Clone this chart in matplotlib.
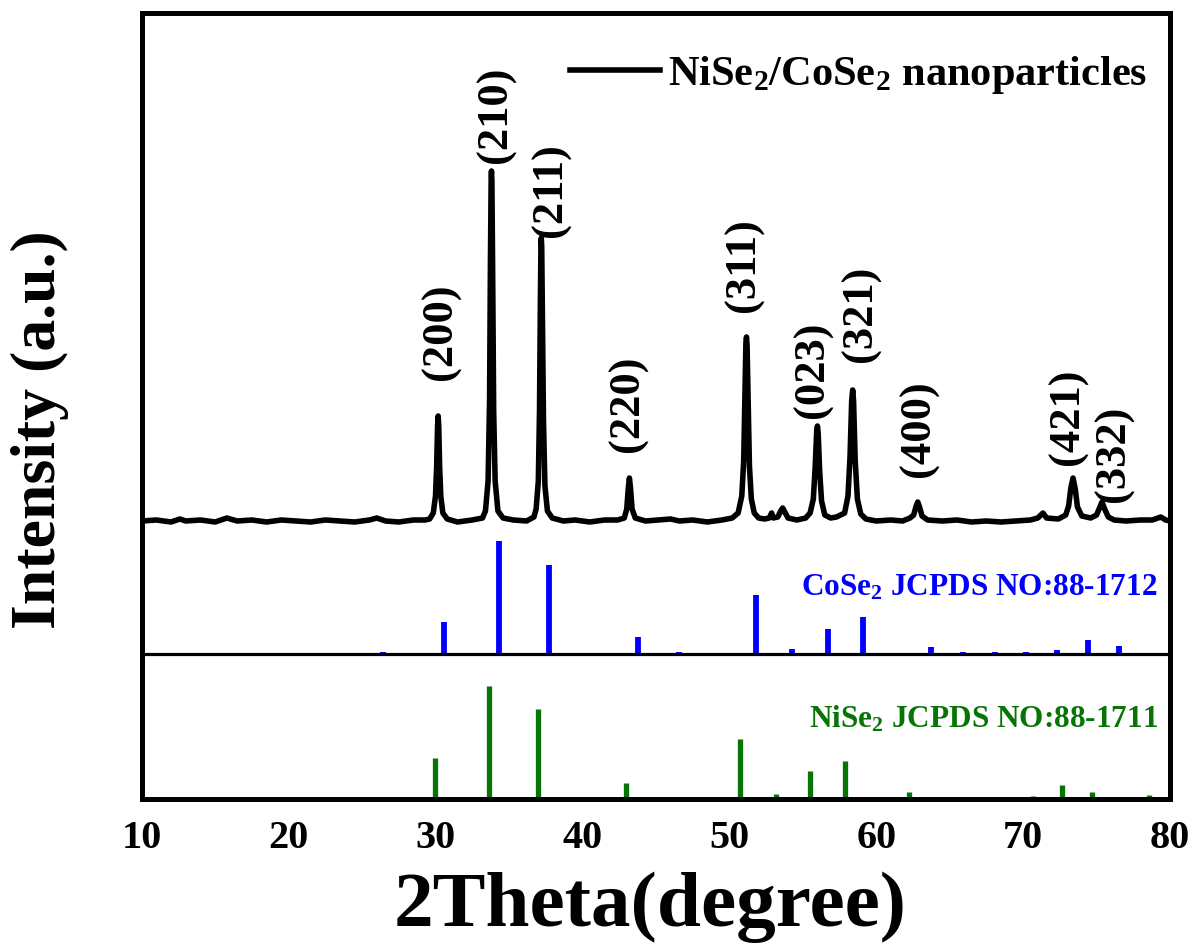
import matplotlib
matplotlib.use('Agg')
import matplotlib.pyplot as plt

plt.rcParams['font.family'] = ['Liberation Serif', 'DejaVu Serif']
plt.rcParams['font.weight'] = 'bold'
plt.rcParams['mathtext.default'] = 'regular'

# ---------------- data ----------------
# measured XRD trace: 2theta (deg) and intensity above background (a.u.)
xrd_2theta = [10.0, 11.0, 12.0, 12.6, 13.0, 14.0, 15.0, 15.8, 16.5, 17.5, 18.5, 19.5,
              20.5, 21.5, 22.5, 23.5, 24.5, 25.5, 26.0, 26.6, 27.5, 28.5, 29.3,
              29.6, 29.85, 30.0, 30.08, 30.14, 30.18, 30.22, 30.28, 30.36, 30.5, 30.8,
              31.5, 32.5, 33.2,
              33.4, 33.58, 33.68, 33.74, 33.79, 33.81, 33.84, 33.89, 33.96, 34.06, 34.25, 34.6,
              35.3, 36.2, 36.7,
              36.85, 37.0, 37.08, 37.14, 37.18, 37.2, 37.23, 37.28, 37.35, 37.45, 37.62, 37.95,
              38.7, 39.5, 40.5, 41.5, 42.4,
              42.85, 43.02, 43.12, 43.2, 43.28, 43.38, 43.6,
              44.3, 45.2, 46.0, 46.6, 47.5, 48.5, 49.5, 50.2,
              50.6, 50.85, 50.98, 51.07, 51.13, 51.17, 51.21, 51.28, 51.37, 51.5, 51.7, 52.0,
              52.4, 52.72, 52.88, 53.0, 53.3, 53.5, 53.63, 53.78, 54.0,
              54.6, 55.2,
              55.5, 55.72, 55.85, 55.95, 56.0, 56.05, 56.15, 56.28, 56.5,
              56.9, 57.3,
              57.85, 58.08, 58.22, 58.33, 58.4, 58.46, 58.57, 58.72, 58.95, 59.3,
              60.0, 61.0, 61.8, 62.3,
              62.55, 62.72, 62.83, 62.95, 63.12, 63.5,
              64.5, 65.5, 66.5, 67.5, 68.5, 69.5, 70.5, 71.0, 71.35, 71.6,
              72.4, 72.9, 73.1, 73.25, 73.4, 73.55, 73.7, 74.0,
              74.6, 75.0, 75.2, 75.37, 75.55, 75.8, 76.2,
              77.0, 78.0, 78.8, 79.37, 79.7, 80.0]
xrd_int = [0, 1, -1, 2, 0, 1, -1, 3, 0, 1, -1, 1,
           0, -1, 1, 0, -1, 1, 3, 0, -1, 1, 1,
           2, 8, 25, 55, 95, 105, 95, 55, 25, 8, 2,
           -1, 1, 3,
           10, 40, 120, 260, 345, 350, 340, 250, 110, 40, 10, 3,
           1, 0, 4,
           12, 40, 110, 220, 278, 283, 275, 200, 100, 35, 10, 3,
           0, 1, -1, 1, 1,
           3, 12, 32, 43, 32, 12, 3,
           0, 1, 2, 0, 1, -1, 1, 3,
           8, 25, 60, 130, 178, 184, 175, 120, 55, 22, 8, 3,
           2, 3, 8, 3, 4, 10, 13, 9, 3,
           1, 3,
           8, 22, 55, 90, 95, 88, 50, 20, 6,
           3, 4,
           8, 25, 65, 120, 131, 120, 60, 22, 7, 2,
           0, 1, 0, 3,
           6, 15, 19, 14, 5, 1,
           0, 1, -1, 0, -1, 0, 1, 3, 8, 3,
           2, 6, 15, 33, 43, 32, 14, 5,
           3, 6, 13, 19, 12, 4, 1,
           0, 1, 1, 4, 1, 0]

# reference pattern CoSe2 (JCPDS 88-1712): position (deg), relative intensity (%)
cose2_pos = [26.4, 30.56, 34.3, 37.7, 43.8, 46.6, 51.8, 54.3, 56.7, 59.1,
             63.7, 65.9, 68.1, 70.2, 72.3, 74.4, 76.5]
cose2_int = [2, 28, 100, 79, 15, 2, 52, 4.5, 22, 33,
             6, 2, 2, 2, 3.5, 12.4, 7]

# reference pattern NiSe2 (JCPDS 88-1711)
nise2_pos = [25.9, 29.95, 33.63, 36.95, 42.95, 45.7, 50.7, 53.2, 55.5, 57.9,
             62.25, 64.4, 66.5, 68.6, 70.67, 72.67, 74.66, 78.6]
nise2_int = [2, 36, 100, 80, 14, 2, 53, 4.5, 25, 34,
             6, 2, 2, 2, 3, 12.5, 6, 3.5]

peak_labels = ['(200)', '(210)', '(211)', '(220)', '(311)', '(023)',
               '(321)', '(400)', '(421)', '(332)']
x_ticks = [10, 20, 30, 40, 50, 60, 70, 80]

# ---------------- layout constants ----------------
XRD_BASE = 278      # vertical offset of measured trace
CO_BASE = 145       # baseline of CoSe2 sticks
NI_BASE = 0         # baseline of NiSe2 sticks
STICK_SCALE = 1.13  # height per % of relative intensity
label_x = [30.33, 34.08, 37.83, 43.06, 51.0, 55.67, 58.96, 62.92, 73.05, 76.2]
label_y = [419, 636, 562, 347, 487, 381, 437, 322, 334, 297]

BLUE = '#0000ff'
GREEN = '#067506'

fig = plt.figure(figsize=(11.92, 9.49), dpi=100)
ax = fig.add_axes([141.7 / 1192, 150 / 949, 1028.3 / 1192, 786 / 949])

ax.plot(xrd_2theta, [XRD_BASE + v for v in xrd_int], color='black', lw=4.0,
        solid_joinstyle='round', label=r'NiSe$_2$/CoSe$_2$ nanoparticles')

ax.vlines(cose2_pos, CO_BASE, [CO_BASE + v * STICK_SCALE for v in cose2_int],
          color=BLUE, lw=4.2)
ax.vlines(nise2_pos, NI_BASE, [NI_BASE + v * STICK_SCALE for v in nise2_int],
          color=GREEN, lw=3.8)
ax.axhline(CO_BASE, color='black', lw=2.3)

for lab, lx, ly in zip(peak_labels, label_x, label_y):
    ax.text(lx, ly, lab, rotation=90, ha='center', va='bottom', fontsize=32,
            fontweight='bold')

ax.text(0.988, 204, r'CoSe$_2$ JCPDS NO:88-1712', transform=ax.get_yaxis_transform(),
        ha='right', va='baseline', color=BLUE, fontsize=22.5, fontweight='bold')
ax.text(0.988, 72, r'NiSe$_2$ JCPDS NO:88-1711', transform=ax.get_yaxis_transform(),
        ha='right', va='baseline', color=GREEN, fontsize=22.5, fontweight='bold')

ax.set_xlim(10, 80)
ax.set_ylim(0, 786)
ax.set_xticks(x_ticks)
ax.set_yticks([])
ax.tick_params(axis='x', length=0, pad=15, labelsize=29)
for s in ax.spines.values():
    s.set_linewidth(3.6)

leg = ax.legend(loc='center left', bbox_to_anchor=((570 - 141.7) / 1028.3, (799 - 75) / 786),
                frameon=False, fontsize=30.5, numpoints=1, handlelength=2.12,
                handletextpad=0.2, borderpad=0, borderaxespad=0)

fig.text(40 / 1192, 1 - 430 / 949, 'Intensity (a.u.)', rotation=90, ha='center',
         va='center', fontsize=46, fontweight='bold')
fig.text(650 / 1192, 1 - 907 / 949, '2Theta(degree)', ha='center', va='center',
         fontsize=57, fontweight='bold')

fig.savefig('out.png', dpi=100)
